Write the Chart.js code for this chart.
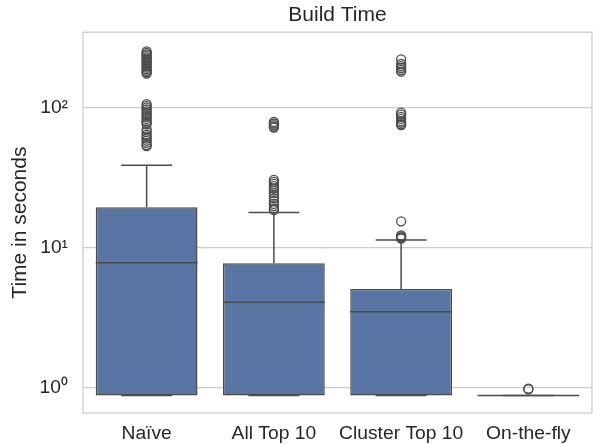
<!DOCTYPE html>
<html lang="en">
<head>
    <meta charset="UTF-8">
    <title>Build Time</title>
    <script src="https://cdn.jsdelivr.net/npm/chart.js"></script>
    <style>
        * { margin: 0; padding: 0; box-sizing: border-box; }
        body { background: #fff; width: 593px; height: 444px; overflow: hidden; }
    </style>
</head>
<body>
    <canvas id="chart" width="593" height="444"></canvas>
    <script>
        // Data (seconds)
        const categories = ['Naïve', 'All Top 10', 'Cluster Top 10', 'On-the-fly'];
        const q1 = [0.877, 0.877, 0.877, 0.877];
        const median = [7.8, 4.06, 3.47, 0.877];
        const q3 = [19.4, 7.73, 5.05, 0.877];
        const whiskerLow = [0.877, 0.877, 0.877, 0.877];
        const whiskerHigh = [38.8, 17.8, 11.3, 0.877];

        const naiveOutliers = [252, 246, 240, 235, 229, 224, 218, 213, 208, 203, 198, 193, 188, 183, 179, 175,
                               106, 103, 100, 97, 94, 91, 88, 86, 83, 80, 78, 76,
                               70, 67, 64, 62, 60, 58, 56, 54, 53];
        const allTopOutliers = [79, 77, 75, 73, 72,
                                30.5, 29.5, 28.5, 27.5, 26.5, 25.5, 24.5, 23.5, 22.5, 21.5, 20.5, 19.8, 19, 18.5];
        const clusterOutliers = [221, 205, 198, 192, 186, 181,
                                 92, 89, 86, 83, 80, 78, 76, 75,
                                 15.4, 12.2, 12, 11.8, 11.6];
        const onTheFlyOutliers = [0.98, 0.97];

        const yTicks = [1, 10, 100];
        const tickLabels = ['10⁰', '10¹', '10²'];

        const boxColor = '#5975a4';
        const lineColor = '#4b4b4b';
        const gridColor = '#cccccc';
        const font = "'Liberation Sans', Arial, sans-serif";

        const outlierPoints = [];
        [naiveOutliers, allTopOutliers, clusterOutliers, onTheFlyOutliers].forEach((list, i) => {
            list.forEach(v => outlierPoints.push({ x: categories[i], y: v }));
        });

        // whiskers, caps, medians and the light frame
        const boxExtras = {
            id: 'boxExtras',
            beforeDatasetsDraw(chart) {
                const a = chart.chartArea;
                const ctx = chart.ctx;
                ctx.save();
                ctx.strokeStyle = gridColor;
                ctx.lineWidth = 1.25;
                ctx.strokeRect(a.left, a.top, a.right - a.left, a.bottom - a.top);
                ctx.restore();
            },
            afterDatasetsDraw(chart) {
                const ctx = chart.ctx;
                const y = chart.scales.y;
                const bars = chart.getDatasetMeta(0).data;
                ctx.save();
                ctx.strokeStyle = lineColor;
                ctx.lineWidth = 1.5;
                bars.forEach((bar, i) => {
                    const half = bar.width / 2;
                    const cx = bar.x;
                    const yq1 = y.getPixelForValue(q1[i]);
                    const yq3 = y.getPixelForValue(q3[i]);
                    const yLo = y.getPixelForValue(whiskerLow[i]);
                    const yHi = y.getPixelForValue(whiskerHigh[i]);
                    const yMed = y.getPixelForValue(median[i]);
                    ctx.beginPath();
                    ctx.moveTo(cx, yq3); ctx.lineTo(cx, yHi);
                    ctx.moveTo(cx - half / 2, yHi); ctx.lineTo(cx + half / 2, yHi);
                    ctx.moveTo(cx, yq1); ctx.lineTo(cx, yLo);
                    ctx.moveTo(cx - half / 2, yLo); ctx.lineTo(cx + half / 2, yLo);
                    ctx.stroke();
                    ctx.beginPath();
                    ctx.moveTo(cx - half, yMed); ctx.lineTo(cx + half, yMed);
                    ctx.stroke();
                });
                ctx.restore();
            }
        };

        new Chart(document.getElementById('chart'), {
            data: {
                labels: categories,
                datasets: [{
                    type: 'bar',
                    data: q1.map((v, i) => [v, q3[i]]),
                    backgroundColor: boxColor,
                    borderColor: lineColor,
                    borderWidth: 1.5,
                    borderSkipped: false,
                    barPercentage: 0.8,
                    categoryPercentage: 1.0,
                    order: 2
                }, {
                    type: 'line',
                    data: outlierPoints,
                    showLine: false,
                    pointRadius: 4.5,
                    pointBorderWidth: 1.3,
                    pointBorderColor: lineColor,
                    pointBackgroundColor: 'rgba(0,0,0,0)',
                    order: 1
                }]
            },
            options: {
                responsive: false,
                animation: false,
                devicePixelRatio: 1,
                layout: { autoPadding: false, padding: { right: 1, left: 0, top: 0, bottom: 0 } },
                plugins: {
                    legend: { display: false },
                    tooltip: { enabled: false },
                    title: {
                        display: true,
                        fullSize: false,
                        text: 'Build Time',
                        color: '#262626',
                        font: { family: font, size: 21, weight: 'normal' },
                        padding: { top: 3, bottom: 4 }
                    }
                },
                scales: {
                    x: {
                        type: 'category',
                        grid: { display: false, drawTicks: false },
                        border: { display: false },
                        afterFit: s => { s.height = 31; s.paddingLeft = 0; s.paddingRight = 0; },
                        ticks: {
                            color: '#262626',
                            font: { family: font, size: 19.25 },
                            padding: 9,
                            maxRotation: 0,
                            minRotation: 0,
                            autoSkip: false
                        }
                    },
                    y: {
                        type: 'logarithmic',
                        min: 0.657,
                        max: 346,
                        afterBuildTicks: s => { s.ticks = yTicks.map(v => ({ value: v })); },
                        afterFit: s => { s.width = 83; s.paddingTop = 0; s.paddingBottom = 0; },
                        grid: { color: gridColor, lineWidth: 1.25, drawTicks: false },
                        border: { display: false },
                        ticks: {
                            color: '#262626',
                            font: { family: font, size: 19.25 },
                            padding: 15,
                            callback: (v) => tickLabels[yTicks.indexOf(v)] || ''
                        },
                        title: {
                            display: true,
                            text: 'Time in seconds',
                            color: '#262626',
                            font: { family: font, size: 21 },
                            padding: { top: 8, bottom: 0 }
                        }
                    }
                }
            },
            plugins: [boxExtras]
        });
    </script>
</body>
</html>
